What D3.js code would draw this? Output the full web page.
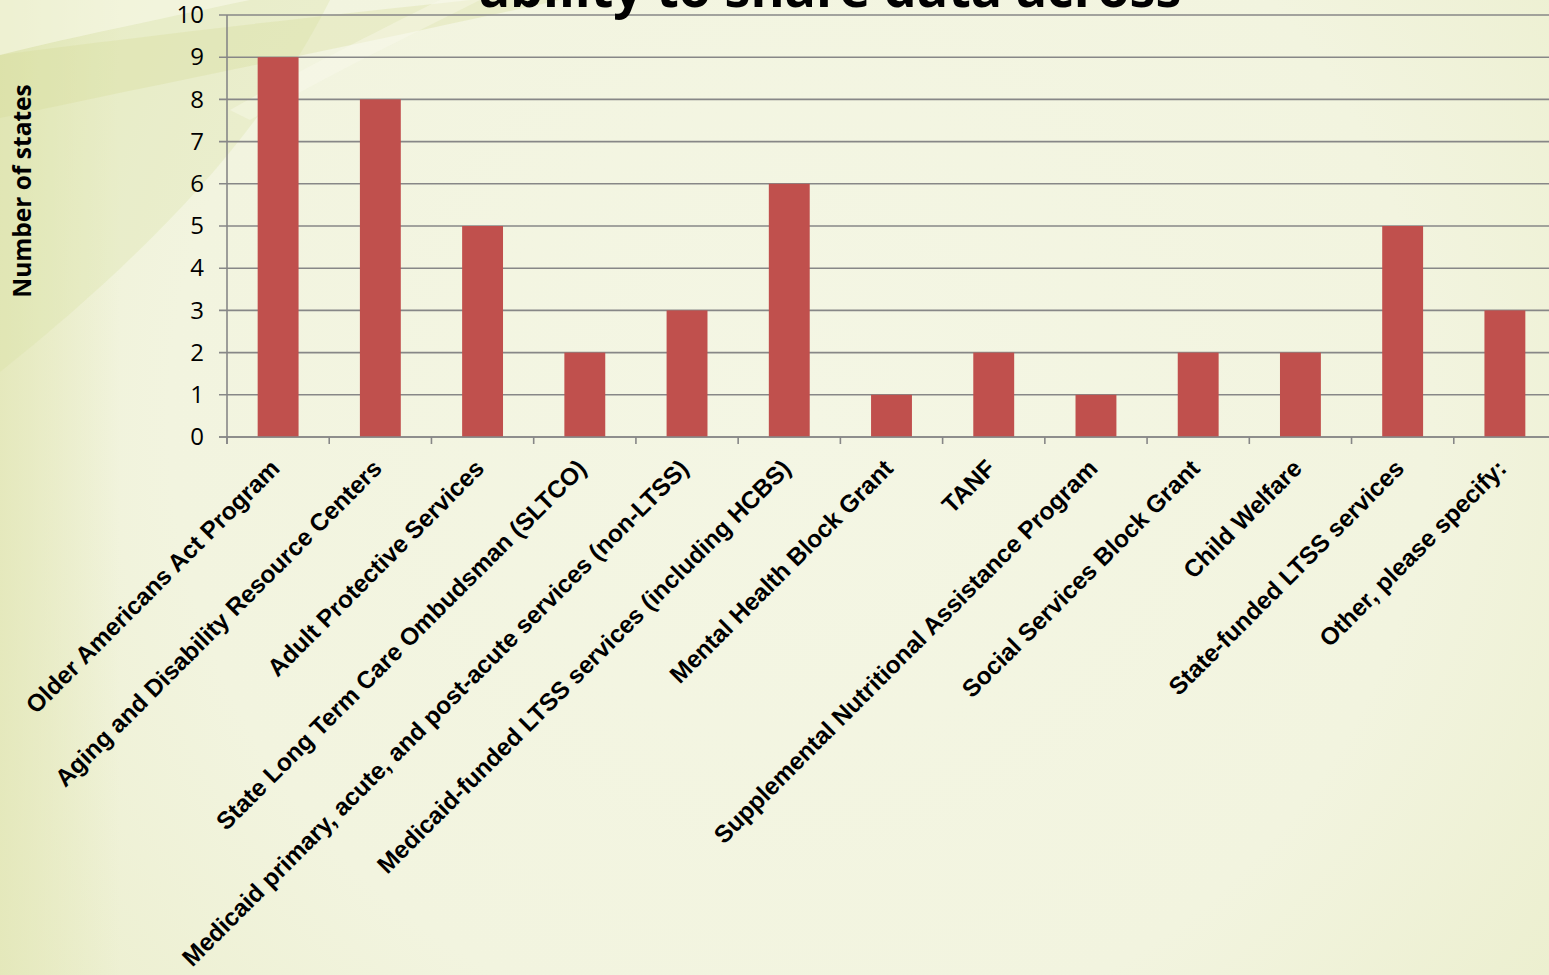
<!DOCTYPE html>
<html>
<head>
<meta charset="utf-8">
<script src="https://cdn.jsdelivr.net/npm/d3@7"></script>
<style>
  html, body { margin: 0; padding: 0; overflow: hidden; background: #f3f5e2; }
  svg { display: block; }
</style>
</head>
<body>
<svg id="chart" width="1549" height="975"></svg>
<script>
// Programs whose data the states share
const categories = [
  "Older Americans Act Program",
  "Aging and Disability Resource Centers",
  "Adult Protective Services",
  "State Long Term Care Ombudsman (SLTCO)",
  "Medicaid primary, acute, and post-acute services (non-LTSS)",
  "Medicaid-funded LTSS services (including HCBS)",
  "Mental Health Block Grant",
  "TANF",
  "Supplemental Nutritional Assistance Program",
  "Social Services Block Grant",
  "Child Welfare",
  "State-funded LTSS services",
  "Other, please specify:"
];
const values = [9, 8, 5, 2, 3, 6, 1, 2, 1, 2, 2, 5, 3];
const yTicks = [0, 1, 2, 3, 4, 5, 6, 7, 8, 9, 10];
const titleText = "ability to share data across";
const yTitle = "Number of states";

const W = 1549, H = 975;
const svg = d3.select("#chart");

// ---- slide background ----
const defs = svg.append("defs");
const bg = defs.append("radialGradient").attr("id", "bgGrad")
  .attr("gradientUnits", "userSpaceOnUse")
  .attr("cx", 800).attr("cy", 420).attr("r", 1050);
bg.append("stop").attr("offset", "0").attr("stop-color", "#f4f6e4");
bg.append("stop").attr("offset", "0.6").attr("stop-color", "#f2f4df");
bg.append("stop").attr("offset", "0.9").attr("stop-color", "#ecefcf");
bg.append("stop").attr("offset", "1").attr("stop-color", "#e7eac2");
svg.append("rect").attr("width", W).attr("height", H).attr("fill", "url(#bgGrad)");

const leftEdge = defs.append("linearGradient").attr("id", "leftEdge")
  .attr("x1", 0).attr("x2", 1).attr("y1", 0).attr("y2", 0);
leftEdge.append("stop").attr("offset", "0").attr("stop-color", "#e3e7b8").attr("stop-opacity", 0.85);
leftEdge.append("stop").attr("offset", "1").attr("stop-color", "#e3e7b8").attr("stop-opacity", 0);
svg.append("rect").attr("x", 0).attr("y", 0).attr("width", 120).attr("height", H)
  .attr("fill", "url(#leftEdge)");

// decorative swooshes in the top-left corner
const swoosh = svg.append("g");
swoosh.append("path")
  .attr("d", "M0,0 L330,0 C260,140 140,260 0,372 Z")
  .attr("fill", "#d8e0a2").attr("opacity", 0.3);
swoosh.append("path")
  .attr("d", "M0,55 C150,35 330,15 470,0 L560,0 C380,40 180,80 0,118 Z")
  .attr("fill", "#d3dc94").attr("opacity", 0.3);
swoosh.append("path")
  .attr("d", "M0,0 L250,0 C180,15 80,35 0,55 Z")
  .attr("fill", "#fbfcf0").attr("opacity", 0.5);
swoosh.append("path")
  .attr("d", "M230,110 C300,70 380,30 440,0 L480,0 C400,40 320,80 250,120 Z")
  .attr("fill", "#fafbee").attr("opacity", 0.4);

// ---- scales ----
const x = d3.scaleBand().domain(categories)
  .range([227, 1556]).paddingInner(0.6).paddingOuter(0.3);
const y = d3.scaleLinear().domain([0, 10]).range([437, 15]);
const step = x.step();
const gridColor = "#878787";

// gridlines
svg.append("g").selectAll("line").data(yTicks).join("line")
  .attr("x1", 219).attr("x2", 1556)
  .attr("y1", d => y(d)).attr("y2", d => y(d))
  .attr("stroke", gridColor).attr("stroke-width", 1.6);

// y axis labels
const yAxis = svg.append("g").attr("transform", "translate(227,0)")
  .call(d3.axisLeft(y).tickValues(yTicks).tickSize(0).tickPadding(23).tickFormat(d3.format("d")));
yAxis.select(".domain").remove();
yAxis.selectAll("text")
  .attr("font-family", "'Open Sans', sans-serif")
  .attr("font-size", 24).attr("fill", "#000");

// bars
svg.append("g").selectAll("rect").data(values).join("rect")
  .attr("x", (d, i) => x(categories[i]))
  .attr("width", x.bandwidth())
  .attr("y", d => y(d))
  .attr("height", d => y(0) - y(d))
  .attr("fill", "#c0504d");

// axis lines
svg.append("line").attr("x1", 227).attr("x2", 227).attr("y1", y(10)).attr("y2", 444)
  .attr("stroke", gridColor).attr("stroke-width", 1.6);
svg.append("line").attr("x1", 219).attr("x2", 1556).attr("y1", y(0)).attr("y2", y(0))
  .attr("stroke", gridColor).attr("stroke-width", 1.6);

// category boundary ticks
const bounds = categories.map(c => x(c) - step * x.paddingOuter());
svg.append("g").selectAll("line").data(bounds).join("line")
  .attr("x1", d => d).attr("x2", d => d)
  .attr("y1", y(0)).attr("y2", y(0) + 7)
  .attr("stroke", gridColor).attr("stroke-width", 1.6);

// category labels, rotated
svg.append("g").selectAll("text").data(categories).join("text")
  .attr("transform", c => `translate(${x(c) + x.bandwidth() / 2 + 3},470) rotate(-45)`)
  .attr("text-anchor", "end")
  .attr("font-family", "'Liberation Sans', Arial, sans-serif")
  .attr("font-weight", "bold")
  .attr("font-size", 24.4)
  .attr("fill", "#000")
  .text(c => c);

// y axis title
svg.append("text")
  .attr("transform", "translate(31,191) rotate(-90)")
  .attr("text-anchor", "middle")
  .attr("font-family", "'Open Sans', sans-serif")
  .attr("font-weight", "bold")
  .attr("font-size", 24.5)
  .attr("fill", "#000")
  .text(yTitle);

// chart title (runs off the top edge)
svg.append("text")
  .attr("x", 830).attr("y", 7)
  .attr("text-anchor", "middle")
  .attr("font-family", "'Open Sans', sans-serif")
  .attr("font-weight", "bold")
  .attr("font-size", 52)
  .attr("fill", "#000")
  .text(titleText);
</script>
</body>
</html>
